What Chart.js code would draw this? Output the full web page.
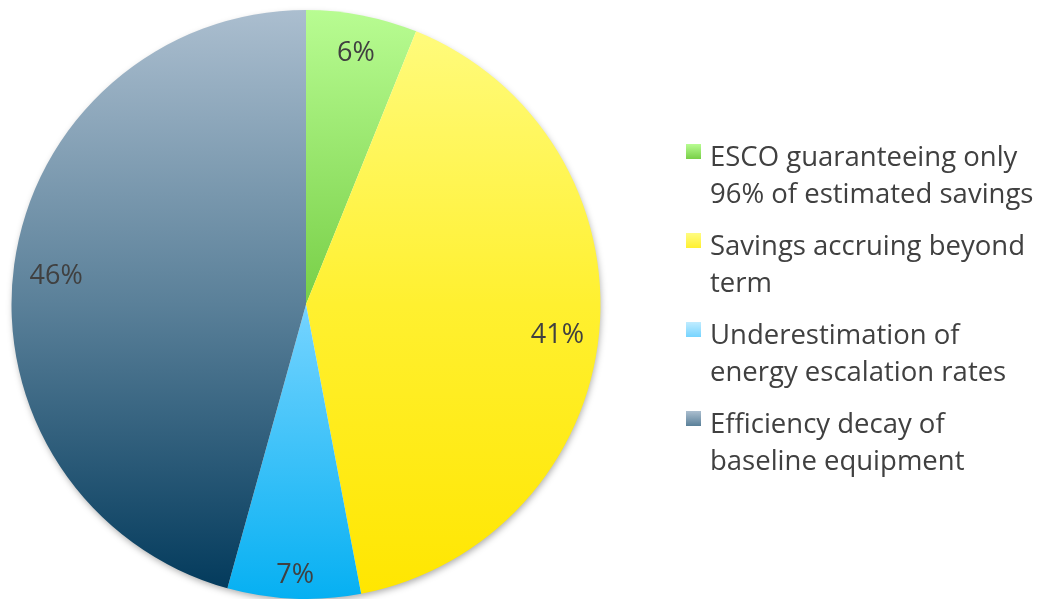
<!DOCTYPE html>
<html><head><meta charset="utf-8">
<script src="https://cdn.jsdelivr.net/npm/chart.js@4.4.0/dist/chart.umd.min.js"></script>
<style>
html,body{margin:0;padding:0;background:#fff;}
#wrap{position:relative;width:1040px;height:599px;overflow:hidden;}
#c{position:absolute;left:0;top:0;}
#legend{position:absolute;left:686px;top:137px;font-family:"Open Sans";color:#404040;}
.item{position:relative;padding-left:24px;height:74px;margin-bottom:15px;font-size:27.5px;line-height:37px;white-space:nowrap;}
.sw{position:absolute;left:0;top:7px;width:15px;height:15px;}
</style></head><body>
<div id="wrap"><canvas id="c" width="1040" height="599"></canvas><div id="legend"></div></div>
<script>
// ---- data ----
const categories = [
  ["ESCO guaranteeing only", "96% of estimated savings"],
  ["Savings accruing beyond", "term"],
  ["Underestimation of", "energy escalation rates"],
  ["Efficiency decay of", "baseline equipment"]
];
const shares = [6.1, 40.9, 7.3, 45.7];
const percentLabels = ["6%", "41%", "7%", "46%"];

// ---- styles ----
const sliceStops = [
  [[0, '#b8fc92'], [0.5, '#78cf47'], [1, '#5fbf30']],
  [[0, '#fffc82'], [0.5, '#fff030'], [1, '#ffe600']],
  [[0, '#c0ecff'], [0.5, '#76d4ff'], [1, '#06b0f2']],
  [[0, '#abbecf'], [0.5, '#5a8099'], [1, '#00385a']]
];
const flatColors = ['#8fe060', '#fff030', '#40c4ff', '#4a7591'];
const textColor = '#404040';
const gradCache = {};

function sliceColor(ctx) {
  const chart = ctx.chart, a = chart.chartArea;
  if (!a) return flatColors[ctx.dataIndex];
  const cy = (a.top + a.bottom) / 2;
  const r = Math.min(a.right - a.left, a.bottom - a.top) / 2;
  const key = ctx.dataIndex + ':' + cy + ':' + r;
  if (!gradCache[key]) {
    const g = chart.ctx.createLinearGradient(0, cy - r, 0, cy + r);
    sliceStops[ctx.dataIndex].forEach(s => g.addColorStop(s[0], s[1]));
    gradCache[key] = g;
  }
  return gradCache[key];
}

const shadowPlugin = {
  id: 'pieShadow',
  beforeDatasetsDraw(chart) {
    const el = chart.getDatasetMeta(0).data[0];
    if (!el) return;
    const p = el.getProps(['x', 'y', 'outerRadius'], true);
    const c = chart.ctx;
    c.save();
    c.shadowColor = 'rgba(0,0,0,0.35)';
    c.shadowBlur = 7;
    c.shadowOffsetX = 1;
    c.shadowOffsetY = 3;
    c.fillStyle = '#ffffff';
    c.beginPath();
    c.arc(p.x, p.y, p.outerRadius - 1, 0, Math.PI * 2);
    c.fill();
    c.restore();
  }
};

const labelPlugin = {
  id: 'sliceLabels',
  afterDatasetsDraw(chart) {
    const c = chart.ctx;
    const size = 27;
    c.save();
    c.font = size + 'px "Open Sans"';
    c.fillStyle = textColor;
    c.textAlign = 'center';
    c.textBaseline = 'alphabetic';
    chart.getDatasetMeta(0).data.forEach((el, i) => {
      const p = el.getProps(['x', 'y', 'startAngle', 'endAngle', 'outerRadius'], true);
      const mid = (p.startAngle + p.endAngle) / 2;
      const txt = percentLabels[i];
      const w = c.measureText(txt).width;
      const h = 30;
      const rl = p.outerRadius - 14 - (w / 2 * Math.abs(Math.cos(mid)) + h / 2 * Math.abs(Math.sin(mid)));
      const x = p.x + rl * Math.cos(mid);
      const y = p.y + rl * Math.sin(mid);
      c.fillText(txt, x, y + 0.5 * size);
    });
    c.restore();
  }
};

const chart = new Chart(document.getElementById('c'), {
  type: 'pie',
  data: {
    labels: categories,
    datasets: [{
      data: shares,
      backgroundColor: sliceColor,
      borderWidth: 0,
      hoverOffset: 0
    }]
  },
  options: {
    responsive: false,
    animation: false,
    layout: { padding: { left: 11, right: 439, top: 10, bottom: 0 } },
    plugins: { legend: { display: false }, tooltip: { enabled: false } }
  },
  plugins: [shadowPlugin, labelPlugin]
});

// ---- legend (HTML) ----
const legend = document.getElementById('legend');
categories.forEach((lines, i) => {
  const item = document.createElement('div');
  item.className = 'item';
  const sw = document.createElement('div');
  sw.className = 'sw';
  const st = sliceStops[i];
  sw.style.background = 'linear-gradient(to bottom,' + st[0][1] + ',' + st[1][1] + ')';
  item.appendChild(sw);
  lines.forEach(l => {
    const d = document.createElement('div');
    d.textContent = l;
    item.appendChild(d);
  });
  legend.appendChild(item);
});
</script>
</body></html>
